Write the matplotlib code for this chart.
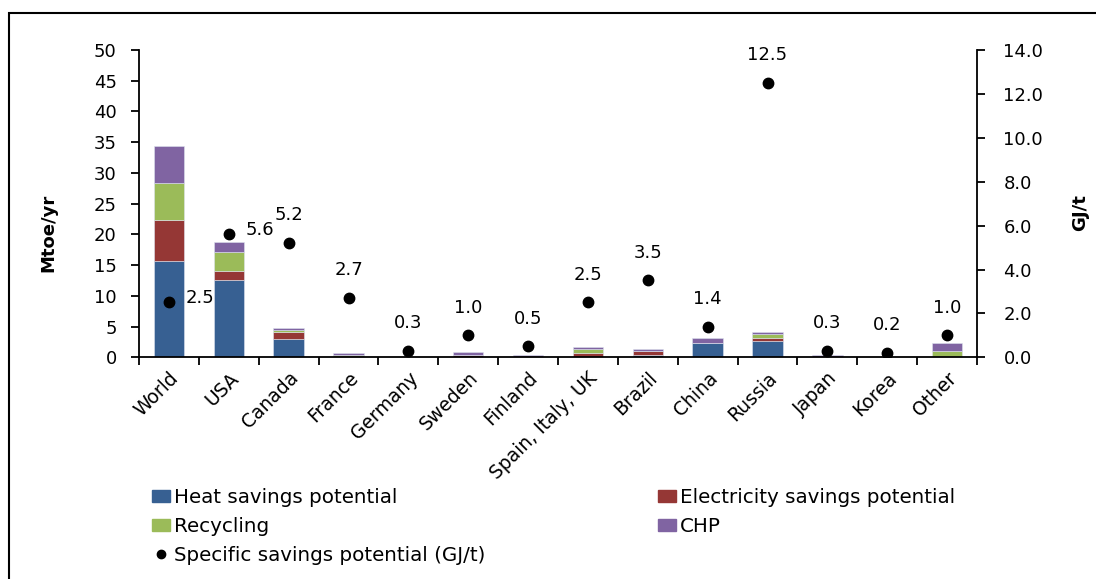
import matplotlib
matplotlib.use("Agg")
import matplotlib.pyplot as plt
import numpy as np
from matplotlib import patches
from matplotlib.lines import Line2D

countries = ["World", "USA", "Canada", "France", "Germany", "Sweden", "Finland",
             "Spain, Italy, UK", "Brazil", "China", "Russia", "Japan", "Korea", "Other"]
heat = [15.6, 12.5, 2.9, 0.0, 0.0, 0.0, 0.0, 0.0, 0.3, 2.25, 2.6, 0.0, 0.0, 0.0]
elec = [6.8, 1.6, 1.25, 0.0, 0.0, 0.4, 0.0, 0.75, 0.7, 0.0, 0.5, 0.0, 0.0, 0.0]
recycling = [5.9, 3.1, 0.35, 0.35, 0.0, 0.0, 0.0, 0.6, 0.0, 0.0, 0.7, 0.0, 0.0, 1.0]
chp = [6.0, 1.5, 0.3, 0.4, 0.0, 0.4, 0.4, 0.35, 0.35, 0.95, 0.35, 0.45, 0.0, 1.35]
specific = [2.5, 5.6, 5.2, 2.7, 0.3, 1.0, 0.5, 2.5, 3.5, 1.4, 12.5, 0.3, 0.2, 1.0]

c_heat = "#376092"
c_elec = "#953735"
c_rec = "#9BBB59"
c_chp = "#8064A2"

plt.rcParams["font.family"] = ["DejaVu Sans"]

fig = plt.figure(figsize=(10.96, 5.79), dpi=100)
ax = fig.add_axes([139 / 1096, 1 - 357.3 / 579, (977 - 139) / 1096, 307.3 / 579])

x = np.arange(len(countries))
w = 0.51
bottom = np.zeros(len(countries))
for vals, col in [(heat, c_heat), (elec, c_elec), (recycling, c_rec), (chp, c_chp)]:
    ax.bar(x, vals, w, bottom=bottom, color=col, edgecolor="#dde3ee", linewidth=0.4, zorder=2)
    bottom += np.array(vals)

ax.set_xlim(-0.5, len(countries) - 0.5)
ax.set_ylim(0, 50)
ax.set_yticks(range(0, 51, 5))
ax.set_xticks(x)
ax.set_xticklabels(countries, rotation=45, ha="right", rotation_mode="anchor", fontsize=13.5)
ax.set_xticks(np.arange(-0.5, len(countries)), minor=True)
ax.tick_params(axis="x", which="major", length=0, pad=8)
ax.tick_params(axis="x", which="minor", length=6, width=1.3, direction="out")
ax.tick_params(axis="y", length=6, width=1.3, labelsize=13, pad=10)
for s in ["left", "bottom"]:
    ax.spines[s].set_linewidth(1.3)
for s in ["top", "right"]:
    ax.spines[s].set_visible(False)

ax2 = ax.twinx()
ax2.set_ylim(0, 14)
ax2.set_yticks(np.arange(0, 14.1, 2))
ax2.set_yticklabels(["%.1f" % v for v in np.arange(0, 14.1, 2)])
ax2.tick_params(axis="y", length=6, width=1.3, labelsize=13, pad=13)
for s in ["left", "top", "bottom"]:
    ax2.spines[s].set_visible(False)
ax2.spines["right"].set_linewidth(1.3)
ax2.plot(x, specific, "o", color="black", markersize=7.5, linestyle="none", zorder=3)

for i, v in enumerate(specific):
    if i < 2:
        ax2.annotate("%.1f" % v, (i, v), xytext=(12, 3), textcoords="offset points",
                     ha="left", va="center", fontsize=13)
    else:
        ax2.annotate("%.1f" % v, (i, v), xytext=(0, 20), textcoords="offset points",
                     ha="center", va="center", fontsize=13)

fig.text(48 / 1096, 1 - 233 / 579, "Mtoe/yr", rotation=90, ha="center", va="center",
         fontsize=13, fontweight="bold")
fig.text(1080 / 1096, 1 - 213 / 579, "GJ/t", rotation=90, ha="center", va="center",
         fontsize=13, fontweight="bold")

h_heat = patches.Patch(color=c_heat)
h_elec = patches.Patch(color=c_elec)
h_rec = patches.Patch(color=c_rec)
h_chp = patches.Patch(color=c_chp)
h_spec = Line2D([], [], color="black", marker="o", linestyle="none", markersize=6)

leg_kw = dict(loc="upper left", frameon=False, fontsize=14.3, handlelength=0.9,
              handleheight=0.55, handletextpad=0.2, labelspacing=0.5,
              borderpad=0, borderaxespad=0)
fig.legend([h_heat, h_rec, h_spec],
           ["Heat savings potential", "Recycling", "Specific savings potential (GJ/t)"],
           bbox_to_anchor=(152 / 1096, 1 - 488 / 579), **leg_kw)
fig.legend([h_elec, h_chp],
           ["Electricity savings potential", "CHP"],
           bbox_to_anchor=(658 / 1096, 1 - 488 / 579), **leg_kw)

fig.patches.append(patches.Rectangle((9 / 1096, -0.1), 1.2, 1.1 - 13 / 579,
                                     transform=fig.transFigure, fill=False,
                                     edgecolor="black", linewidth=1.5))

fig.savefig("out.png", dpi=100)
